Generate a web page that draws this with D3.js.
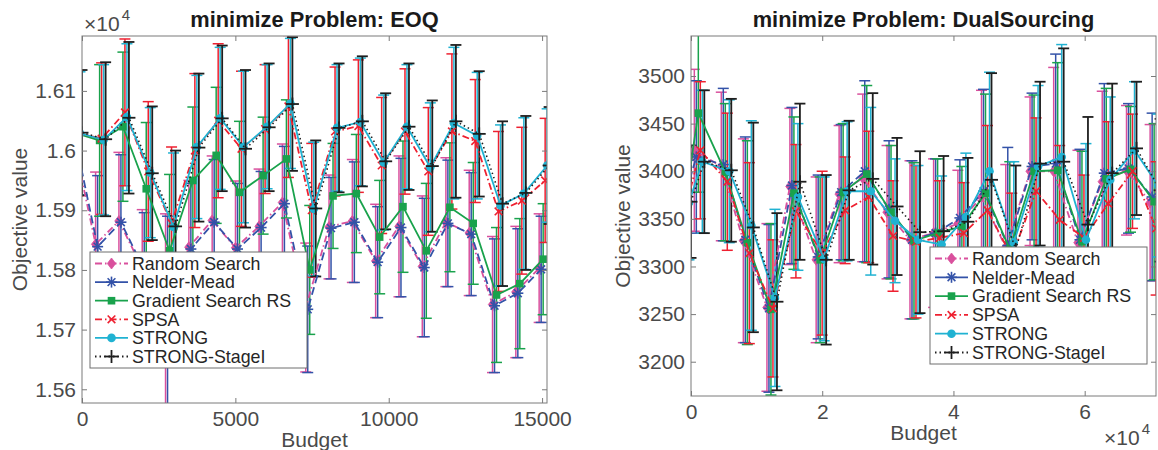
<!DOCTYPE html>
<html>
<head>
<meta charset="utf-8">
<script src="https://cdn.jsdelivr.net/npm/d3@7"></script>
<style>
  html, body { margin: 0; padding: 0; background: #fff; }
  svg { display: block; font-family: "Liberation Sans", Arial, Helvetica, sans-serif; }
</style>
</head>
<body>
<svg id="chart" width="1158" height="450"></svg>
<script>
// ---- data ----
const solverNames = ['Random Search', 'Nelder-Mead', 'Gradient Search RS', 'SPSA', 'STRONG', 'STRONG-StageI'];

// EOQ panel
const eoqBudget = [0, 770, 1530, 2290, 3050, 3810, 4570, 5330, 6100, 6860, 7620, 8380, 9140, 9900, 10660, 11420, 12190, 12950, 13710, 14470, 15230];
const eoqMeans = [
  [16029, 15843, 15882, 15803, 15722, 15838, 15883, 15837, 15873, 15913, 15737, 15872, 15882, 15815, 15873, 15806, 15880, 15862, 15742, 15763, 15803], // Random Search
  [16029, 15839, 15880, 15800, 15720, 15835, 15880, 15835, 15871, 15911, 15734, 15870, 15880, 15813, 15871, 15804, 15878, 15860, 15740, 15761, 15801], // Nelder-Mead
  [16029, 16017, 16040, 15936, 15832, 15950, 15992, 15930, 15958, 15986, 15800, 15924, 15928, 15855, 15906, 15832, 15905, 15878, 15758, 15777, 15818], // Gradient Search RS
  [16029, 16020, 16064, 15965, 15878, 16000, 16050, 16003, 16036, 16074, 15900, 16032, 16041, 15975, 16032, 15965, 16032, 16016, 15898, 15916, 15950], // SPSA
  [16029, 16018, 16056, 15963, 15872, 16006, 16054, 16006, 16040, 16079, 15902, 16038, 16048, 15980, 16040, 15972, 16046, 16025, 15908, 15928, 15975], // STRONG
  [16030, 16019, 16055, 15962, 15873, 16005, 16054, 16003, 16039, 16078, 15903, 16038, 16049, 15982, 16040, 15974, 16049, 16028, 15911, 15929, 15975]  // STRONG-StageI
];
const eoqHalfWidths = [
  [104, 121, 115, 98, 172, 112, 108, 112, 96, 98, 108, 87, 103, 95, 118, 118, 108, 105, 114, 110, 91],
  [105, 119, 113, 96, 170, 110, 105, 110, 94, 96, 106, 85, 101, 93, 116, 116, 106, 103, 112, 108, 89],
  [105, 127, 125, 111, 128, 123, 114, 119, 98, 99, 108, 88, 99, 95, 110, 113, 108, 102, 113, 109, 93],
  [105, 127, 123, 117, 128, 129, 129, 130, 108, 119, 112, 108, 111, 114, 105, 107, 130, 103, 134, 123, 104],
  [103, 126, 123, 109, 124, 120, 119, 127, 104, 109, 112, 106, 107, 113, 104, 108, 127, 106, 135, 127, 95],
  [105, 129, 127, 112, 127, 124, 122, 132, 107, 112, 114, 108, 109, 114, 106, 110, 128, 105, 138, 129, 98]
];
const eoqXTicks = [0, 5000, 10000, 15000];
const eoqXTickLabels = ['0', '5000', '10000', '15000'];
const eoqYTicks = [15600, 15700, 15800, 15900, 16000, 16100];
const eoqYTickLabels = ['1.56', '1.57', '1.58', '1.59', '1.6', '1.61'];

// DualSourcing panel
const dsBudget = [0, 2030, 6140, 9500, 13100, 16600, 20600, 24100, 27700, 31400, 34900, 38500, 42200, 45800, 49500, 53200, 56800, 60500, 64200, 67900, 71500];
const dsMeans = [
  [3367, 3422, 3405, 3327, 3257, 3384, 3307, 3376, 3393, 3357, 3328, 3335, 3345, 3373, 3320, 3400, 3400, 3325, 3389, 3401, 3367], // Random Search
  [3367, 3415, 3407, 3328, 3256, 3385, 3310, 3378, 3400, 3360, 3328, 3335, 3351, 3379, 3322, 3405, 3408, 3328, 3398, 3403, 3373], // Nelder-Mead
  [3367, 3461, 3399, 3325, 3255, 3377, 3307, 3378, 3397, 3357, 3327, 3335, 3342, 3377, 3318, 3400, 3401, 3326, 3392, 3402, 3368], // Gradient Search RS
  [3367, 3422, 3389, 3314, 3256, 3358, 3314, 3359, 3373, 3332, 3326, 3330, 3335, 3359, 3310, 3379, 3349, 3330, 3366, 3400, 3340], // SPSA
  [3367, 3410, 3400, 3343, 3267, 3373, 3308, 3379, 3379, 3348, 3328, 3323, 3352, 3400, 3325, 3405, 3415, 3328, 3391, 3422, 3385], // STRONG
  [3368, 3410, 3401, 3341, 3263, 3389, 3307, 3380, 3392, 3363, 3336, 3337, 3347, 3391, 3318, 3408, 3410, 3344, 3398, 3424, 3380]  // STRONG-StageI
];
const dsHalfWidths = [
  [60, 85, 78, 107, 88, 82, 87, 72, 88, 70, 83, 78, 56, 112, 87, 78, 109, 97, 95, 68, 82],
  [60, 80, 80, 108, 88, 82, 86, 71, 95, 72, 83, 78, 61, 107, 103, 77, 115, 95, 94, 68, 88],
  [60, 83, 72, 107, 90, 80, 87, 72, 93, 70, 82, 78, 63, 104, 92, 80, 113, 95, 95, 66, 82],
  [60, 72, 72, 95, 72, 70, 86, 56, 69, 58, 80, 60, 53, 89, 67, 77, 78, 66, 86, 60, 70],
  [60, 75, 75, 110, 93, 77, 86, 73, 88, 65, 78, 72, 67, 104, 85, 85, 118, 101, 87, 72, 75],
  [59, 75, 75, 110, 93, 82, 89, 73, 90, 72, 85, 79, 67, 112, 88, 86, 119, 113, 94, 70, 75]
];
const dsXTicks = [0, 20000, 40000, 60000];
const dsXTickLabels = ['0', '2', '4', '6'];
const dsYTicks = [3200, 3250, 3300, 3350, 3400, 3450, 3500];
const dsYTickLabels = ['3200', '3250', '3300', '3350', '3400', '3450', '3500'];

// ---- styles ----
const STYLES = [
  { color: '#d9509d', dash: '7,3,1.5,3', marker: 'diamond' },
  { color: '#3352a8', dash: '8,4',       marker: 'star' },
  { color: '#19a24c', dash: null,        marker: 'square' },
  { color: '#ee2030', dash: '7,3,1.5,3', marker: 'cross' },
  { color: '#20b2d2', dash: null,        marker: 'circle' },
  { color: '#1e1e1e', dash: '1.5,3',     marker: 'plus' },
];
const FONT = '"Liberation Sans", Arial, Helvetica, sans-serif';
const TICK_COLOR = '#4a4a4a';
const AXIS_COLOR = '#7a7a7a';

const svg = d3.select('#chart');

function drawMarker(g, kind, x, y, color) {
  if (kind === 'diamond') {
    g.append('path').attr('d', `M${x},${y - 5.5}L${x + 4.2},${y}L${x},${y + 5.5}L${x - 4.2},${y}Z`)
      .attr('fill', color).attr('stroke', color).attr('stroke-width', 0.8);
  } else if (kind === 'star') {
    const r = 5.5;
    [0, 45, 90, 135].forEach(a => {
      const dx = r * Math.cos(a * Math.PI / 180), dy = r * Math.sin(a * Math.PI / 180);
      g.append('line').attr('x1', x - dx).attr('y1', y - dy).attr('x2', x + dx).attr('y2', y + dy)
        .attr('stroke', color).attr('stroke-width', 1.6);
    });
  } else if (kind === 'square') {
    g.append('rect').attr('x', x - 3.8).attr('y', y - 3.8).attr('width', 7.6).attr('height', 7.6)
      .attr('fill', color);
  } else if (kind === 'cross') {
    const r = 3.8;
    g.append('line').attr('x1', x - r).attr('y1', y - r).attr('x2', x + r).attr('y2', y + r)
      .attr('stroke', color).attr('stroke-width', 1.6);
    g.append('line').attr('x1', x - r).attr('y1', y + r).attr('x2', x + r).attr('y2', y - r)
      .attr('stroke', color).attr('stroke-width', 1.6);
  } else if (kind === 'circle') {
    g.append('circle').attr('cx', x).attr('cy', y).attr('r', 4.3).attr('fill', color);
  } else if (kind === 'plus') {
    const r = 6.5;
    g.append('line').attr('x1', x - r).attr('y1', y).attr('x2', x + r).attr('y2', y)
      .attr('stroke', color).attr('stroke-width', 1.8);
    g.append('line').attr('x1', x).attr('y1', y - r).attr('x2', x).attr('y2', y + r)
      .attr('stroke', color).attr('stroke-width', 1.8);
  }
}

function drawPanel(cfg) {
  const { id, box, xDomain, yDomain, budget, means, halfWidths } = cfg;
  const x = d3.scaleLinear().domain(xDomain).range([box.x0, box.x1]);
  const y = d3.scaleLinear().domain(yDomain).range([box.y1, box.y0]);
  const g = svg.append('g');

  g.append('clipPath').attr('id', 'clip-' + id)
    .append('rect').attr('x', box.x0).attr('y', box.y0)
    .attr('width', box.x1 - box.x0).attr('height', box.y1 - box.y0);

  const plot = g.append('g').attr('clip-path', `url(#clip-${id})`);
  const off = s => (s - 5) * 2;   // per-solver horizontal shift of the bars

  // error bars
  means.forEach((row, s) => {
    const st = STYLES[s];
    const eg = plot.append('g').attr('stroke', st.color).attr('stroke-width', s === 5 ? 1.8 : 1.5);
    row.forEach((m, k) => {
      const px = x(budget[k]) + off(s);
      const lo = y(m - halfWidths[s][k]), hi = y(m + halfWidths[s][k]);
      eg.append('line').attr('x1', px).attr('x2', px).attr('y1', lo).attr('y2', hi);
      eg.append('line').attr('x1', px - 5.5).attr('x2', px + 5.5).attr('y1', lo).attr('y2', lo);
      eg.append('line').attr('x1', px - 5.5).attr('x2', px + 5.5).attr('y1', hi).attr('y2', hi);
    });
  });

  // mean lines + markers
  means.forEach((row, s) => {
    const st = STYLES[s];
    const line = d3.line()
      .x((d, k) => x(budget[k]) + off(s))
      .y(d => y(d));
    plot.append('path').datum(row).attr('d', line)
      .attr('fill', 'none').attr('stroke', st.color)
      .attr('stroke-width', s === 5 ? 1.6 : 1.8)
      .attr('stroke-dasharray', st.dash);
    const mg = plot.append('g');
    row.forEach((m, k) => drawMarker(mg, st.marker, x(budget[k]) + off(s), y(m), st.color));
  });

  // axes (ticks inward on all four sides)
  const axStyle = sel => {
    sel.select('.domain').remove();
    sel.selectAll('line').attr('stroke', AXIS_COLOR);
    sel.selectAll('text').attr('fill', TICK_COLOR).attr('font-size', 21).attr('font-family', FONT);
  };
  g.append('g').attr('transform', `translate(0,${box.y1})`)
    .call(d3.axisBottom(x).tickValues(cfg.xTicks).tickFormat((d, i) => cfg.xTickLabels[i])
      .tickSizeInner(-5).tickSizeOuter(0).tickPadding(8))
    .call(axStyle);
  g.append('g').attr('transform', `translate(0,${box.y0})`)
    .call(d3.axisTop(x).tickValues(cfg.xTicks).tickFormat('').tickSizeInner(-5).tickSizeOuter(0))
    .call(axStyle);
  g.append('g').attr('transform', `translate(${box.x0},0)`)
    .call(d3.axisLeft(y).tickValues(cfg.yTicks).tickFormat((d, i) => cfg.yTickLabels[i])
      .tickSizeInner(-5).tickSizeOuter(0).tickPadding(6))
    .call(axStyle);
  g.append('g').attr('transform', `translate(${box.x1},0)`)
    .call(d3.axisRight(y).tickValues(cfg.yTicks).tickFormat('').tickSizeInner(-5).tickSizeOuter(0))
    .call(axStyle);

  g.append('rect').attr('x', box.x0).attr('y', box.y0)
    .attr('width', box.x1 - box.x0).attr('height', box.y1 - box.y0)
    .attr('fill', 'none').attr('stroke', AXIS_COLOR).attr('stroke-width', 1);

  // titles and labels
  const cx = (box.x0 + box.x1) / 2;
  g.append('text').attr('x', cx).attr('y', 27).attr('text-anchor', 'middle')
    .attr('font-size', 21.8).attr('font-weight', 'bold').attr('fill', '#1a1a1a')
    .text(cfg.title);
  g.append('text').attr('x', cx).attr('y', box.y1 + 44).attr('text-anchor', 'middle')
    .attr('font-size', 21).attr('fill', TICK_COLOR).text('Budget');
  g.append('text')
    .attr('transform', `translate(${cfg.yLabelX},${(box.y0 + box.y1) / 2}) rotate(-90)`)
    .attr('text-anchor', 'middle').attr('font-size', 21).attr('fill', TICK_COLOR)
    .text('Objective value');

  // exponent label
  const ex = g.append('text').attr('fill', TICK_COLOR);
  ex.append('tspan').attr('x', cfg.expX).attr('y', cfg.expY).attr('font-size', 21).text('\u00d710');
  ex.append('tspan').attr('dx', 2).attr('dy', -11).attr('font-size', 15).text('4');

  // legend
  const lg = g.append('g');
  const lb = cfg.legend;
  lg.append('rect').attr('x', lb.x).attr('y', lb.y).attr('width', lb.w).attr('height', lb.h)
    .attr('fill', '#fff').attr('stroke', '#6e6e6e').attr('stroke-width', 1);
  solverNames.forEach((name, s) => {
    const st = STYLES[s];
    const ry = lb.y + lb.first + s * lb.step;
    const x1 = lb.x + 5, x2 = lb.x + 38, mx = (x1 + x2) / 2;
    lg.append('line').attr('x1', x1).attr('x2', x2).attr('y1', ry).attr('y2', ry)
      .attr('stroke', st.color).attr('stroke-width', 1.8)
      .attr('stroke-dasharray', s === 1 ? null : st.dash);
    drawMarker(lg, st.marker, mx, ry, st.color);
    lg.append('text').attr('x', lb.x + 42).attr('y', ry + 6.3)
      .attr('font-size', 17.8).attr('fill', '#262626').text(name);
  });
}

drawPanel({
  id: 'eoq',
  title: 'minimize Problem: EOQ',
  box: { x0: 82, x1: 547, y0: 36, y1: 403 },
  xDomain: [0, 15160], yDomain: [15577, 16192],
  budget: eoqBudget, means: eoqMeans, halfWidths: eoqHalfWidths,
  xTicks: eoqXTicks, xTickLabels: eoqXTickLabels,
  yTicks: eoqYTicks, yTickLabels: eoqYTickLabels,
  yLabelX: 27, expX: 84, expY: 31,
  legend: { x: 90, y: 252, w: 217, h: 116, first: 11.5, step: 18.6 }
});

drawPanel({
  id: 'ds',
  title: 'minimize Problem: DualSourcing',
  box: { x0: 691, x1: 1156, y0: 36, y1: 396 },
  xDomain: [0, 70870], yDomain: [3164, 3542],
  budget: dsBudget, means: dsMeans, halfWidths: dsHalfWidths,
  xTicks: dsXTicks, xTickLabels: dsXTickLabels,
  yTicks: dsYTicks, yTickLabels: dsYTickLabels,
  yLabelX: 630, expX: 1104, expY: 445,
  legend: { x: 930, y: 247, w: 217, h: 117, first: 11.5, step: 18.8 }
});
</script>
</body>
</html>
